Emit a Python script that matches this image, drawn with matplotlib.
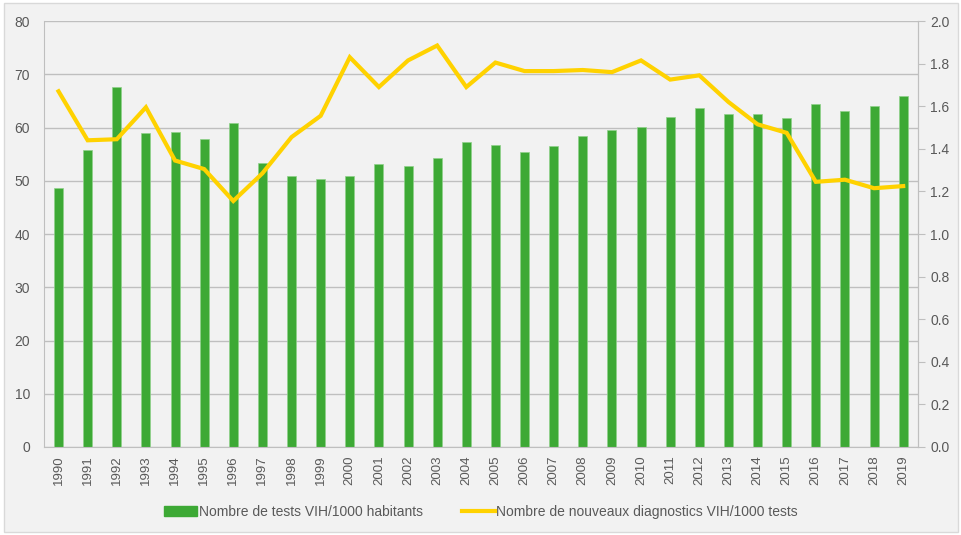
import matplotlib.pyplot as plt
import matplotlib
from matplotlib.patches import Rectangle
from matplotlib.lines import Line2D
from matplotlib.patches import Patch

matplotlib.rcParams['font.family'] = ['Liberation Sans', 'DejaVu Sans']

years = [str(y) for y in range(1990, 2020)]
tests = [48.7, 55.7, 67.6, 58.9, 59.1, 57.8, 60.8, 53.4, 50.9, 50.4,
         50.9, 53.2, 52.7, 54.2, 57.2, 56.8, 55.4, 56.6, 58.5, 59.5,
         60.1, 62.0, 63.7, 62.6, 62.5, 61.7, 64.4, 63.1, 64.1, 65.9]
diagnostics = [1.67, 1.44, 1.445, 1.595, 1.345, 1.305, 1.155, 1.285, 1.455, 1.555,
               1.83, 1.69, 1.815, 1.885, 1.69, 1.805, 1.765, 1.765, 1.77, 1.76,
               1.815, 1.725, 1.745, 1.62, 1.515, 1.475, 1.245, 1.255, 1.215, 1.225]

BG = '#f2f2f2'
GREEN = '#3da935'
YELLOW = '#ffd200'
GRID = '#bfbfbf'
TXT = '#595959'

fig = plt.figure(figsize=(9.62, 5.35), dpi=100)
fig.patch.set_facecolor('white')
fig.patches.append(Rectangle((0.004, 0.006), 0.992, 0.988, transform=fig.transFigure,
                             facecolor=BG, edgecolor='#d9d9d9', linewidth=1, zorder=-10))

ax = fig.add_axes([0.0457, 0.1645, 0.9083, 0.7962])
ax.set_facecolor(BG)
x = list(range(len(years)))
ax.bar(x, tests, width=0.31, color=GREEN, edgecolor='#8fd18a', linewidth=0.5, zorder=2)
ax.set_xlim(-0.5, len(years) - 0.5)
ax.set_ylim(0, 80)
ax.set_yticks(range(0, 81, 10))
ax.yaxis.grid(True, color=GRID, linewidth=1, zorder=0)
ax.set_axisbelow(True)
ax.set_xticks(x)
ax.set_xticklabels(years, rotation=90, fontsize=9.5, color=TXT)
ax.tick_params(axis='y', length=0, labelsize=10, labelcolor=TXT, pad=10)
ax.tick_params(axis='x', length=0, pad=6)
ax.spines['top'].set_visible(False)
ax.spines['left'].set_color(GRID)
ax.spines['bottom'].set_color(GRID)
ax.spines['right'].set_color(GRID)

ax2 = ax.twinx()
ax2.plot(x, diagnostics, color=YELLOW, linewidth=3, zorder=3, solid_joinstyle='miter')
ax2.set_ylim(0, 2.0)
ax2.set_yticks([i / 10 for i in range(0, 21, 2)])
ax2.set_yticklabels([f'{i / 10:.1f}' for i in range(0, 21, 2)])
ax2.tick_params(axis='y', length=5, color=GRID, labelsize=10, labelcolor=TXT, pad=4)
for s in ['top', 'left', 'bottom']:
    ax2.spines[s].set_visible(False)
ax2.spines['right'].set_color(GRID)

handles = [Patch(facecolor=GREEN, edgecolor=GREEN),
           Line2D([0], [0], color=YELLOW, linewidth=3)]
labels = ['Nombre de tests VIH/1000 habitants',
          'Nombre de nouveaux diagnostics VIH/1000 tests']
fig.legend(handles, labels, loc='center', bbox_to_anchor=(0.5, 0.043), ncol=2,
           frameon=False, fontsize=10, labelcolor=TXT, columnspacing=2.8,
           handlelength=2.4, handletextpad=0.1)

fig.savefig('out.png', dpi=100, facecolor=fig.get_facecolor())
